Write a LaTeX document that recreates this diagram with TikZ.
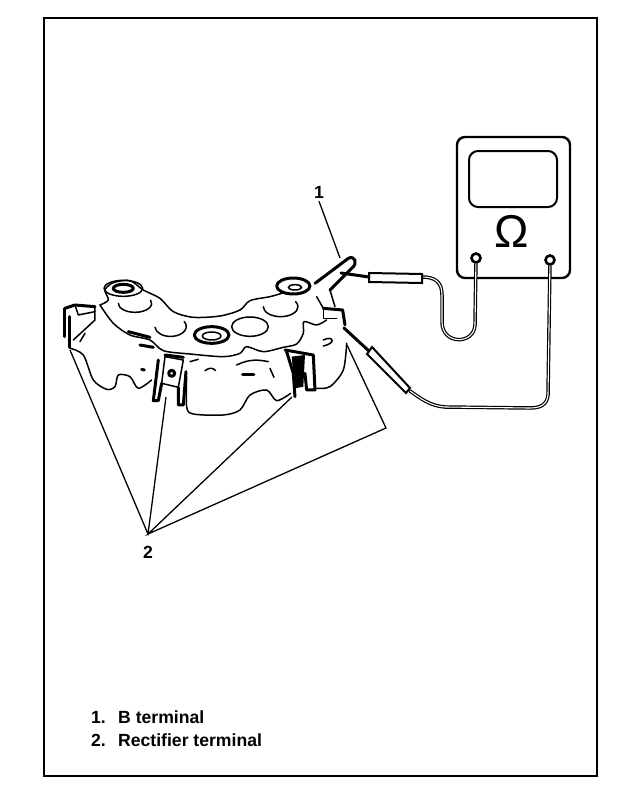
\documentclass[tikz,border=0pt]{standalone}
\usepackage{fontspec}
\setmainfont{Liberation Sans}
\tikzset{
  bodyline/.style={line width=1.5pt,line cap=round,line join=round},
  heavyline/.style={line width=3pt,line cap=round,line join=round},
  leader/.style={line width=1.3pt},
  wire/.style={line width=1.2pt,double=white,double distance=1.1pt,line cap=round},
  callout/.style={font=\fontsize{17.6}{20}\selectfont\bfseries,inner sep=0pt}
}
\begin{document}
\begin{tikzpicture}[x=1pt,y=-1pt]
\useasboundingbox (0,0) rectangle (624,798);
\fill[white] (0,0) rectangle (624,798);
\draw[line width=2pt] (44,18) rectangle (597,776);

%rectifier, traced in 3x crop units
\begin{scope}[shift={(50,240)},x=0.3333pt,y=-0.3333pt]
%plate
\draw[bodyline] plot[smooth,tension=0.5] coordinates {(150,195) (190,250) (240,285) (300,300) (340,332) (420,342) (520,350) (570,340) (590,320) (640,335) (700,322) (740,312) (760,280) (762,245) (800,255) (830,240)};
\draw[bodyline] plot[smooth,tension=0.5] coordinates {(150,195) (175,180) (165,150) (190,128) (240,122) (280,150) (330,175) (370,215) (430,232) (510,228) (570,210) (600,182) (660,170) (695,160)};
\draw[bodyline] (800,170) -- (820,205);
\draw[heavyline] (235,275) -- (300,292);
\draw[heavyline] (270,315) -- (310,322);
%rings
\draw[bodyline] (220,145) ellipse (58 and 24);
\draw[heavyline] (220,145) ellipse (30 and 12);
\draw[heavyline] (730,138) ellipse (50 and 24);
\draw[bodyline] (735,142) ellipse (20 and 8);
\draw[heavyline] (485,285) ellipse (52 and 25);
\draw[bodyline] (485,288) ellipse (28 and 12);
%holes
\draw[bodyline] (205,190) arc (180:-20:50 and 27);
\draw[bodyline] (315,262) arc (175:-30:47 and 30);
\draw[bodyline] (600,260) ellipse (55 and 29);
\draw[bodyline] (640,200) arc (180:-30:52 and 30);
\draw[bodyline] (820,300) .. controls (850,285) and (860,310) .. (820,318);
%skirt
\draw[bodyline] plot[smooth,tension=0.5] coordinates {(60,325) (100,345) (130,420) (170,448) (195,440) (205,405) (240,410) (265,445) (305,420)};
\draw[bodyline] plot[smooth,tension=0.5] coordinates {(410,410) (410,500) (430,522) (520,525) (570,510) (600,465) (650,450) (680,482) (722,460)};
\draw[bodyline] plot[smooth,tension=0.5] coordinates {(800,445) (840,440) (880,390) (890,310)};
\draw[bodyline] (420,365) -- (445,358);
\draw[bodyline] (465,392) .. controls (480,380) and (490,385) .. (497,392);
\draw[bodyline] (560,375) .. controls (600,355) and (630,360) .. (655,365);
\draw[heavyline] (578,405) -- (612,405);
\draw[bodyline] (660,385) -- (672,412);
\draw[heavyline] (275,388) -- (283,390);
%left terminal
\draw[heavyline] (45,205) -- (45,290);
\draw[heavyline] (45,205) -- (75,195) -- (135,200);
\draw[heavyline] (60,230) -- (60,322);
\draw[bodyline] (135,200) -- (135,240) -- (70,300);
\draw[bodyline] (75,195) -- (85,225) -- (135,215);
\draw[bodyline] (105,280) -- (90,305);
%middle terminal
\draw[bodyline] (345,350) -- (400,360) -- (385,442) -- (335,430) -- cycle;
\draw[heavyline] (365,400) circle (9);
\draw[heavyline] (345,345) -- (400,352);
\draw[heavyline] (325,360) -- (310,482) -- (325,482) -- (335,430);
\draw[heavyline] (408,395) -- (400,495) -- (385,495) -- (385,442);
%right terminal
\draw[heavyline] (705,330) -- (790,345) -- (795,450) -- (770,450) -- (765,400);
\draw[heavyline] (710,335) -- (730,400) -- (735,470);
\fill (725,350) -- (765,345) -- (760,440) -- (735,445) -- cycle;
%B terminal post
\draw[heavyline] (795,130) -- (895,55) .. controls (915,45) and (925,70) .. (905,85) -- (840,150);
\draw[bodyline] (840,150) -- (855,200);
\draw[heavyline] (820,205) -- (878,210) -- (885,255);
\draw[bodyline] (820,205) -- (820,235) -- (860,235);
\end{scope}

%meter
\draw[line width=2.4pt,rounded corners=8pt] (457,137) rectangle (570,278);
\draw[line width=2pt,rounded corners=9pt] (469,151) rectangle (557,207);
\node[inner sep=0pt,font=\fontsize{46}{48}\selectfont] (ohm) at (512,231) {Ω};
\node[circle,draw,line width=2.6pt,minimum size=9pt,inner sep=0pt] (jacka) at (476,258) {};
\node[circle,draw,line width=2.6pt,minimum size=9pt,inner sep=0pt] (jackb) at (550,260) {};

%probes
\draw[wire] (jacka) -- (475,325) .. controls (474,345) and (442,345) .. (442,322) -- (442,295) .. controls (442,282) and (435,277) .. (422,277);
\draw[wire] (jackb) -- (548,395) .. controls (547,405) and (540,408) .. (530,408) -- (445,407) .. controls (430,406) and (420,398) .. (410,391);
\draw[line width=2pt,fill=white] (369,273) -- (422,274) -- (422,283) -- (369,282) -- cycle;
\draw[heavyline] (341,273) -- (369,277);
\draw[line width=2pt,fill=white] (367,354) -- (372,347) -- (410,388) -- (406,393) -- cycle;
\draw[heavyline] (344,328) -- (369,351);

%labels
\node[callout] (one) at (319,192) {1};
\node[callout] (two) at (148,552) {2};
\coordinate (onetip) at (340,258);
\draw[leader] (one.south) ++(0,3) -- (onetip);
\coordinate (apex) at (148,534);
\coordinate (tipa) at (70,350);
\coordinate (tipb) at (166,397);
\coordinate (tipc) at (292,397);
\coordinate (tipd) at (386,428);
\coordinate (tipe) at (347,345);
\draw[leader] (tipa) -- (apex) -- (tipb);
\draw[leader] (tipc) -- (apex) -- (tipd) -- (tipe);

\node[callout,anchor=base west] (numa) at (91,723) {1.};
\node[callout,anchor=base west] (terma) at (118,723) {B terminal};
\node[callout,anchor=base west] (numb) at (91,746) {2.};
\node[callout,anchor=base west] (termb) at (118,746) {Rectifier terminal};
\end{tikzpicture}
\end{document}
